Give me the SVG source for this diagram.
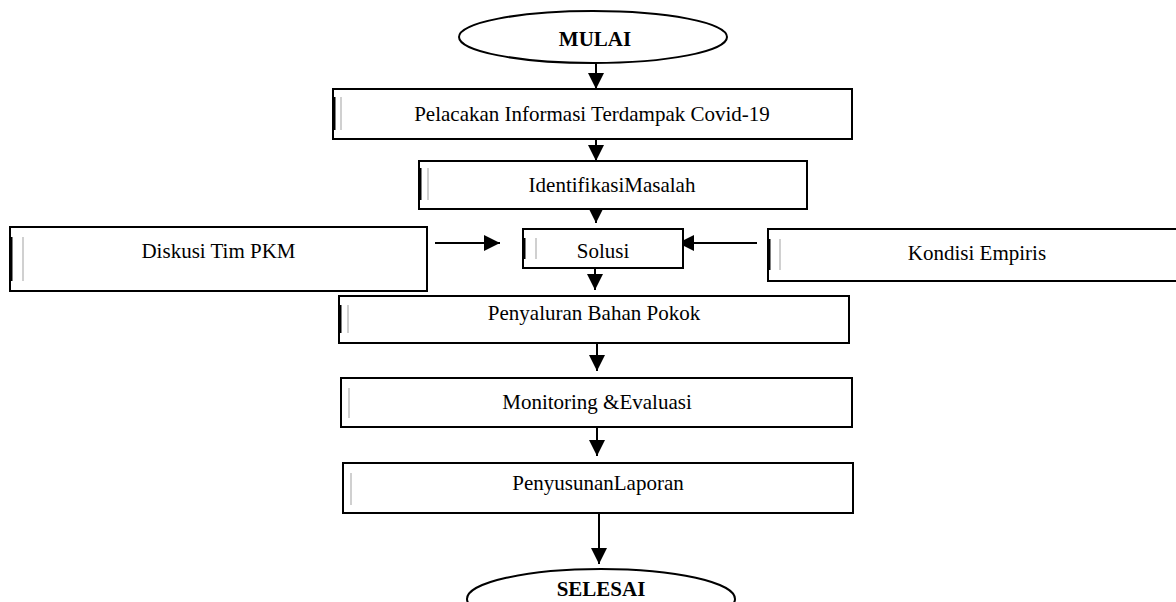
<svg xmlns="http://www.w3.org/2000/svg" width="1176" height="602" viewBox="0 0 1176 602">
  <style>
    .box { fill: #ffffff; stroke: #000000; stroke-width: 2; }
    .ell { fill: #ffffff; stroke: #000000; stroke-width: 2; }
    .lbl { font-family: "Liberation Serif", "Times New Roman", serif; font-size: 21px; fill: #000000; text-anchor: middle; }
    .bold { font-weight: bold; }
    .edge { stroke: #000000; stroke-width: 2; fill: none; marker-end: url(#arrow); }
    .art { stroke: #d0d0d0; stroke-width: 2; }
    .thick { stroke: #000000; stroke-width: 3; }
  </style>
  <defs>
    <marker id="arrow" viewBox="0 0 16 16" refX="16" refY="8" markerWidth="16" markerHeight="16" markerUnits="userSpaceOnUse" orient="auto">
      <path d="M0,0 L16,8 L0,16 z" fill="#000000"/>
    </marker>
  </defs>
  <rect width="1176" height="602" fill="#ffffff"/>

  <g id="connectors">
    <line class="edge" x1="596" y1="63" x2="596" y2="89"/>
    <line class="edge" x1="596" y1="139" x2="596" y2="161"/>
    <line class="edge" x1="596" y1="209" x2="596" y2="223"/>
    <line class="edge" x1="435" y1="243" x2="500" y2="243"/>
    <line class="edge" x1="757" y1="243" x2="678" y2="243"/>
    <line class="edge" x1="595" y1="268" x2="595" y2="290"/>
    <line class="edge" x1="597" y1="343" x2="597" y2="371"/>
    <line class="edge" x1="597" y1="427" x2="597" y2="456"/>
    <line class="edge" x1="599" y1="513" x2="599" y2="564"/>
  </g>

  <g id="mulai">
    <ellipse class="ell" cx="593" cy="37" rx="134" ry="26"/>
    <text class="lbl bold" x="595" y="46">MULAI</text>
  </g>

  <g id="pelacakan">
    <rect class="box" x="333" y="89" width="519" height="50"/>
    <line class="thick" x1="334" y1="97" x2="334" y2="130"/>
    <line class="art" x1="341" y1="97" x2="341" y2="130"/>
    <text class="lbl" x="592" y="121">Pelacakan Informasi Terdampak Covid-19</text>
  </g>

  <g id="identifikasi">
    <rect class="box" x="419" y="161" width="388" height="48"/>
    <line class="thick" x1="420" y1="168" x2="420" y2="200"/>
    <line class="art" x1="428" y1="168" x2="428" y2="200"/>
    <text class="lbl" x="612" y="192">IdentifikasiMasalah</text>
  </g>

  <g id="diskusi">
    <rect class="box" x="10" y="227" width="417" height="64"/>
    <line class="thick" x1="11" y1="237" x2="11" y2="281"/>
    <line class="art" x1="23" y1="237" x2="23" y2="281"/>
    <text class="lbl" x="218.5" y="258">Diskusi Tim PKM</text>
  </g>

  <g id="solusi">
    <rect class="box" x="523" y="229" width="160" height="39"/>
    <line class="thick" x1="524" y1="238" x2="524" y2="259"/>
    <line class="art" x1="536" y1="238" x2="536" y2="259"/>
    <text class="lbl" x="603" y="258">Solusi</text>
  </g>

  <g id="kondisi">
    <rect class="box" x="768" y="229" width="418" height="52"/>
    <line class="thick" x1="769" y1="239" x2="769" y2="270"/>
    <line class="art" x1="780" y1="239" x2="780" y2="270"/>
    <text class="lbl" x="977" y="260">Kondisi Empiris</text>
  </g>

  <g id="penyaluran">
    <rect class="box" x="339" y="296" width="510" height="47"/>
    <line class="thick" x1="340" y1="305" x2="340" y2="333"/>
    <line class="art" x1="348" y1="305" x2="348" y2="333"/>
    <text class="lbl" x="594" y="320">Penyaluran Bahan Pokok</text>
  </g>

  <g id="monitoring">
    <rect class="box" x="341" y="378" width="511" height="49"/>
    <line class="art" x1="349" y1="388" x2="349" y2="418"/>
    <text class="lbl" x="597" y="409">Monitoring &amp;Evaluasi</text>
  </g>

  <g id="penyusunan">
    <rect class="box" x="343" y="463" width="510" height="50"/>
    <line class="art" x1="351" y1="473" x2="351" y2="505"/>
    <text class="lbl" x="598" y="490">PenyusunanLaporan</text>
  </g>

  <g id="selesai">
    <ellipse class="ell" cx="601" cy="599" rx="134" ry="30"/>
    <text class="lbl bold" x="601" y="596">SELESAI</text>
  </g>
</svg>
